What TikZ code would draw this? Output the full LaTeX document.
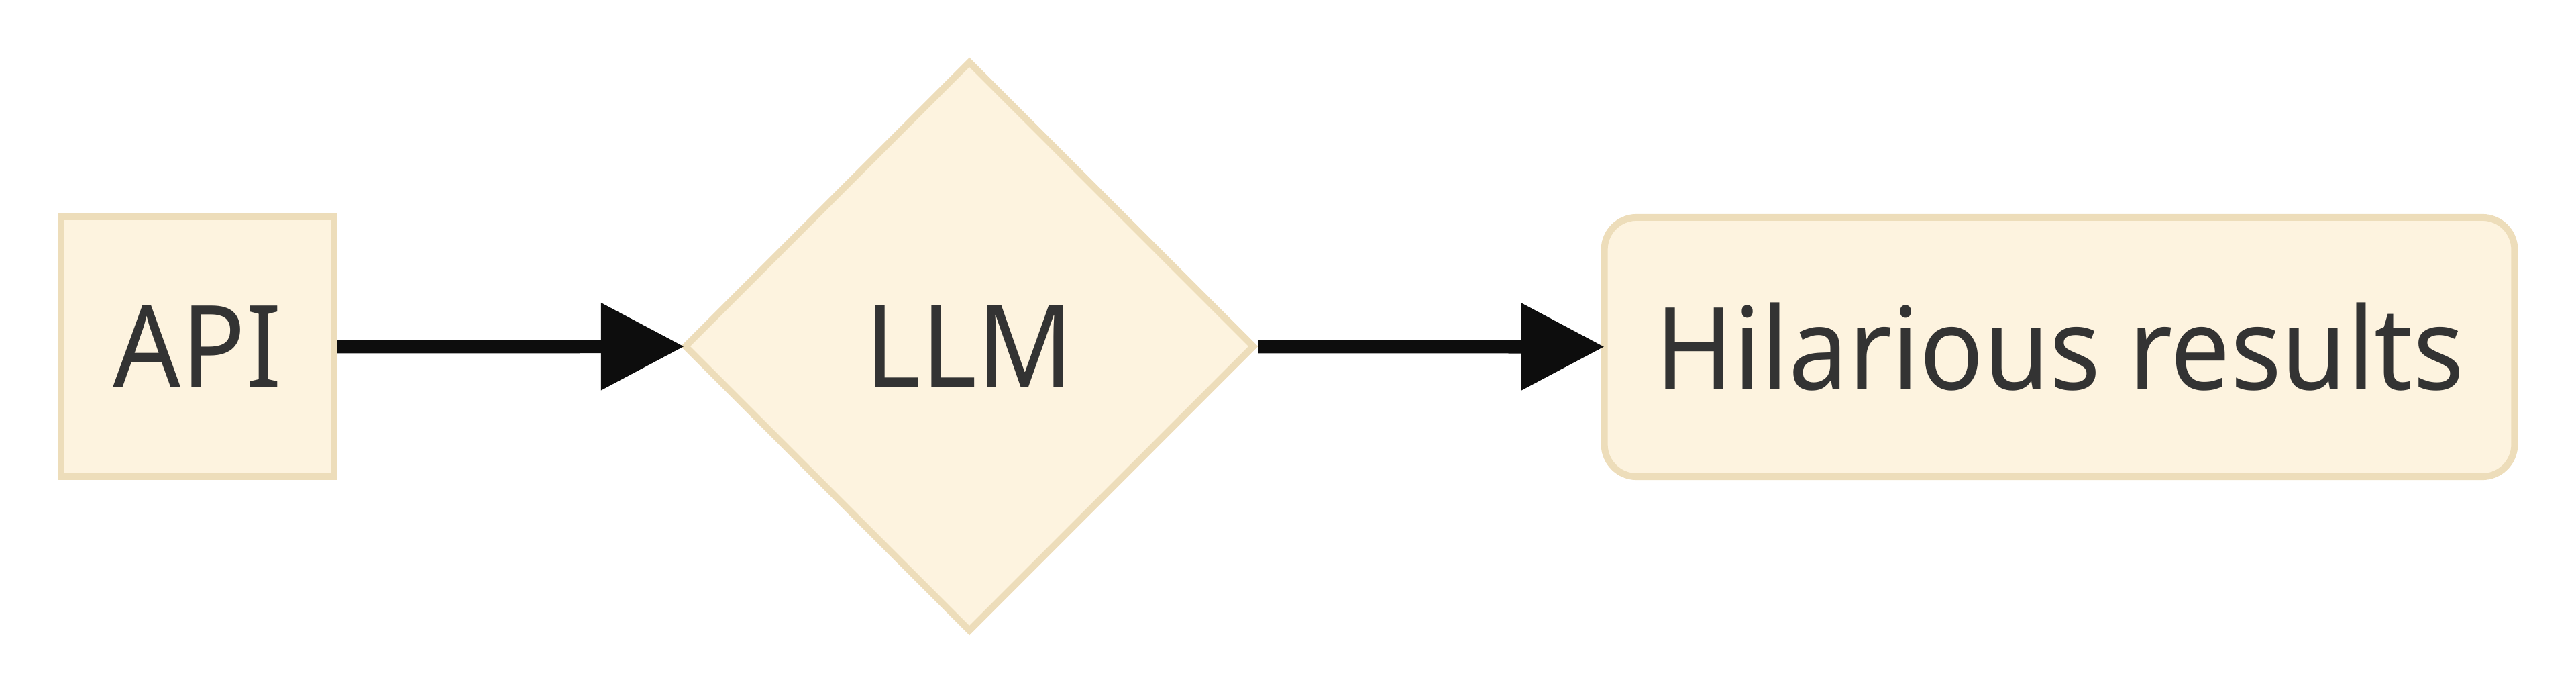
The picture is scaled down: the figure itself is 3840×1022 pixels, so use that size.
\documentclass[tikz,border=0pt]{standalone}
\usepackage{fontspec}
\setmainfont{Noto Sans}[FakeStretch=0.93]
\usetikzlibrary{shapes.geometric,arrows.meta}
\definecolor{nodefill}{HTML}{FDF3DF}
\definecolor{nodeline}{HTML}{EDDDBA}
\definecolor{txt}{HTML}{333333}
\definecolor{edge}{HTML}{0D0D0D}
\tikzset{
  base/.style={draw=nodeline, fill=nodefill, line width=0.1cm, text=txt,
    font=\fontsize{48.5pt}{57pt}\selectfont, inner sep=0pt},
  sqbox/.style={base, minimum width=4.07cm, minimum height=3.87cm},
  dia/.style={base, diamond, aspect=1, minimum width=8.5cm, minimum height=8.5cm},
  rbox/.style={base, rounded corners=0.48cm, minimum width=13.56cm, minimum height=3.86cm},
  link/.style={draw=edge, line width=0.2cm, shorten >=-0.05cm,
    -{Triangle[length=1.24cm,width=1.25cm]}}
}
\begin{document}
\begin{tikzpicture}[x=0.01cm,y=-0.01cm]
\useasboundingbox (0,0) rectangle (3840,1022);
\node[sqbox] (api) at (294.5,516.5) {API};
\node[dia] (llm) at (1445,516) {LLM};
\node[rbox] (res) at (3070,517) {Hilarious results};
\draw[link] (api) -- (llm);
\draw[link] (llm) -- (res);
\end{tikzpicture}
\end{document}
